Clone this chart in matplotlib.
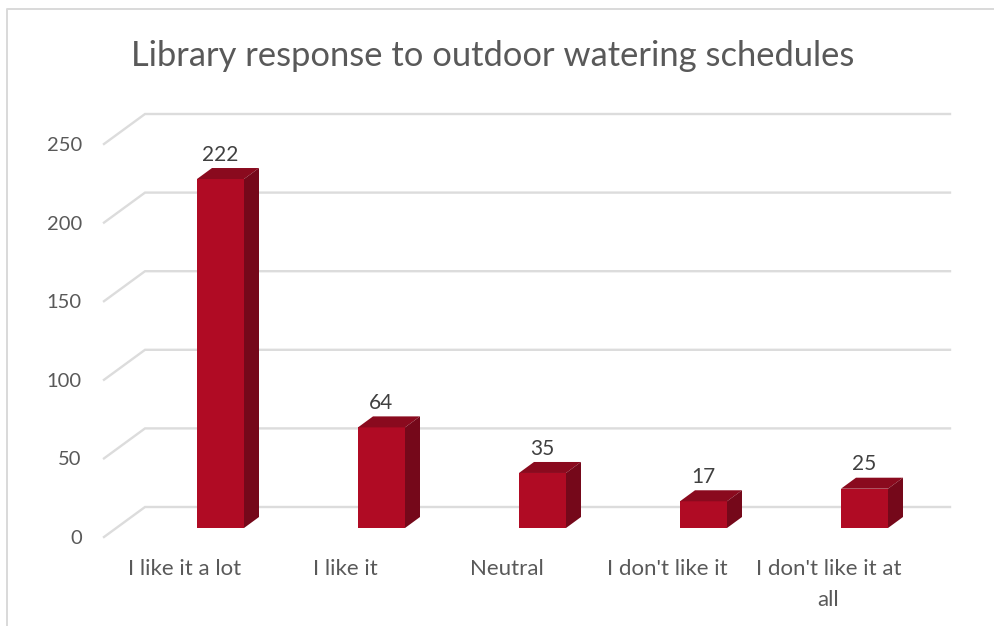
import matplotlib
matplotlib.use('Agg')
import matplotlib.pyplot as plt
from matplotlib.lines import Line2D
from matplotlib.patches import Polygon

categories = ['I like it a lot', 'I like it', 'Neutral', "I don't like it", "I don't like it at\nall"]
values = [222, 64, 35, 17, 25]
yticks = [0, 50, 100, 150, 200, 250]

W, H = 994, 626
plt.rcParams['font.family'] = ['Lato', 'DejaVu Sans']

# front plane of the fake 3d box, in pixels
left, right, y0, y250 = 104, 909, 537, 144
px_x = 5 / (right - left)
px_y = 250 / (y0 - y250)

fig = plt.figure(figsize=(W / 100, H / 100), dpi=100)
ax = fig.add_axes([left / W, 1 - y0 / H, (right - left) / W, (y0 - y250) / H])
ax.set_xlim(-0.5, 4.5)
ax.set_ylim(0, 250)
for s in ax.spines.values():
    s.set_visible(False)
ax.patch.set_visible(False)

ax.set_xticks(range(len(categories)))
ax.set_xticklabels(categories, fontsize=16, color='#595959', linespacing=1.65)
ax.set_yticks(yticks)
ax.tick_params(axis='y', length=0, pad=16, labelsize=14.5, labelcolor='#595959')
ax.tick_params(axis='x', length=0, pad=16)

# gridlines: diagonal on the side wall, then along the back wall
back_x = 41 * px_x
back_y = 30 * px_y
for t in yticks:
    ax.plot([-0.5, -0.5 + back_x, 4.5 + back_x], [t, t + back_y, t + back_y],
            color='#dcdcdc', lw=1.7, clip_on=False, zorder=1, solid_joinstyle='miter')

# bars
bar_w = 47 * px_x
shift_x = 36 * px_x
shift_y = 9 * px_y
depth_x = 15 * px_x
depth_y = 11 * px_y
for i, v in enumerate(values):
    x1 = i + shift_x - bar_w / 2
    x2 = x1 + bar_w
    top = v + shift_y
    ax.bar(x1, v, bottom=shift_y, width=bar_w, align='edge', color='#b00b24', zorder=3, clip_on=False)
    ax.add_patch(Polygon([(x1, top), (x1 + depth_x, top + depth_y), (x2 + depth_x, top + depth_y), (x2, top)],
                         facecolor='#8a0a1e', edgecolor='none', zorder=3, clip_on=False))
    ax.add_patch(Polygon([(x2, shift_y), (x2 + depth_x, shift_y + depth_y), (x2 + depth_x, top + depth_y), (x2, top)],
                         facecolor='#75081a', edgecolor='none', zorder=3, clip_on=False))
    ax.annotate(str(v), (i + shift_x, top + depth_y), xytext=(0, 2.5), textcoords='offset points',
                ha='center', va='bottom', fontsize=15, color='#404040', zorder=4)

# chart border, top and left only
fig.add_artist(Line2D([7 / W, 7 / W, 1], [0, 1 - 9 / H, 1 - 9 / H], color='#d9d9d9', lw=1.4))

fig.text(493 / W, 1 - 56 / H, 'Library response to outdoor watering schedules',
         ha='center', va='center', fontsize=24.8, color='#595959')

fig.savefig('out.png', dpi=100)
